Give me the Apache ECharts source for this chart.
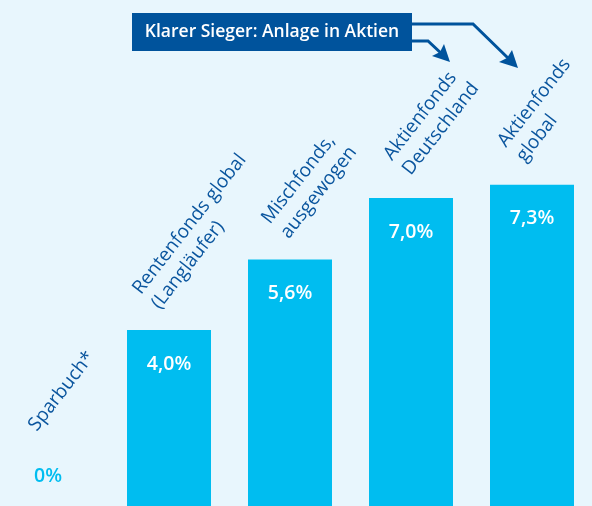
<!DOCTYPE html>
<html>
<head>
<meta charset="utf-8">
<script src="https://cdn.jsdelivr.net/npm/echarts@6/dist/echarts.min.js"></script>
<style>
  html, body { margin: 0; padding: 0; background: #e8f6fd; }
  #chart { width: 592px; height: 506px; }
</style>
</head>
<body>
<div id="chart"></div>
<script>
// Rendite-Vergleich (Prozent p.a.)
const categories = ['Sparbuch*', 'Rentenfonds global\n(Langläufer)', 'Mischfonds,\nausgewogen', 'Aktienfonds\nDeutschland', 'Aktienfonds\nglobal'];
const values = [0, 4.0, 5.6, 7.0, 7.3];

const darkBlue = '#0a559e';
const barColor = '#00bdf0';
const fontFamily = '"Open Sans", "Noto Sans", sans-serif';

// Lage der schrägen Beschriftung relativ zur Säule (von Hand abgeglichen)
const namePos = [[36, -70], [38, -16], [46, -16], [47, -18], [40, -18]];

function formatPct(v) {
    return v === 0 ? '0%' : v.toFixed(1).replace('.', ',') + '%';
}

const chart = echarts.init(document.getElementById('chart'));

const barData = values.map(v => {
    if (v === 0) {
        return {
            value: v,
            label: { position: 'top', distance: 20, color: barColor }
        };
    }
    return v;
});

const nameData = values.map((v, i) => ({
    value: v,
    name: categories[i],
    label: { position: namePos[i] }
}));

const option = {
    backgroundColor: '#e8f6fd',
    animation: false,
    grid: { left: -12.5, width: 605, top: 0, bottom: 0, outerBoundsMode: 'none' },
    xAxis: {
        type: 'category',
        data: categories,
        axisLine: { show: false },
        axisTick: { show: false },
        axisLabel: { show: false }
    },
    yAxis: {
        type: 'value',
        min: 0,
        max: 11.5,
        show: false,
        splitLine: { show: false }
    },
    series: [
        {
            type: 'bar',
            barWidth: 84,
            data: barData,
            itemStyle: { color: barColor },
            label: {
                show: true,
                position: 'insideTop',
                distance: 24,
                color: '#ffffff',
                fontSize: 19.5,
                fontWeight: 600,
                fontFamily: fontFamily,
                formatter: p => formatPct(p.value)
            }
        },
        {
            type: 'bar',
            barWidth: 84,
            barGap: '-100%',
            data: nameData,
            itemStyle: { color: 'rgba(0,0,0,0)' },
            silent: true,
            z: 5,
            label: {
                show: true,
                rotate: 52,
                align: 'left',
                verticalAlign: 'bottom',
                color: darkBlue,
                fontSize: 19,
                lineHeight: 24,
                fontFamily: fontFamily,
                formatter: p => categories[p.dataIndex]
            }
        }
    ],
    graphic: [
        {
            type: 'rect',
            shape: { x: 132, y: 13, width: 280, height: 38 },
            style: { fill: '#00539c' }
        },
        {
            type: 'text',
            x: 272, y: 32,
            style: {
                text: 'Klarer Sieger: Anlage in Aktien',
                fill: '#ffffff',
                font: '600 17.5px "Open Sans", "Noto Sans", sans-serif',
                align: 'center',
                verticalAlign: 'middle'
            }
        },
        {
            type: 'polyline',
            shape: { points: [[412, 24], [473, 24], [509, 59]] },
            style: { stroke: '#00539c', lineWidth: 3, fill: null }
        },
        {
            type: 'polygon',
            shape: { points: [[518, 68], [499, 62], [507, 58], [512, 50]] },
            style: { fill: '#00539c' }
        },
        {
            type: 'polyline',
            shape: { points: [[412, 41], [428, 41], [443, 55]] },
            style: { stroke: '#00539c', lineWidth: 3, fill: null }
        },
        {
            type: 'polygon',
            shape: { points: [[450, 62], [432, 56], [440, 52], [444, 44]] },
            style: { fill: '#00539c' }
        }
    ]
};

chart.setOption(option);
</script>
</body>
</html>
